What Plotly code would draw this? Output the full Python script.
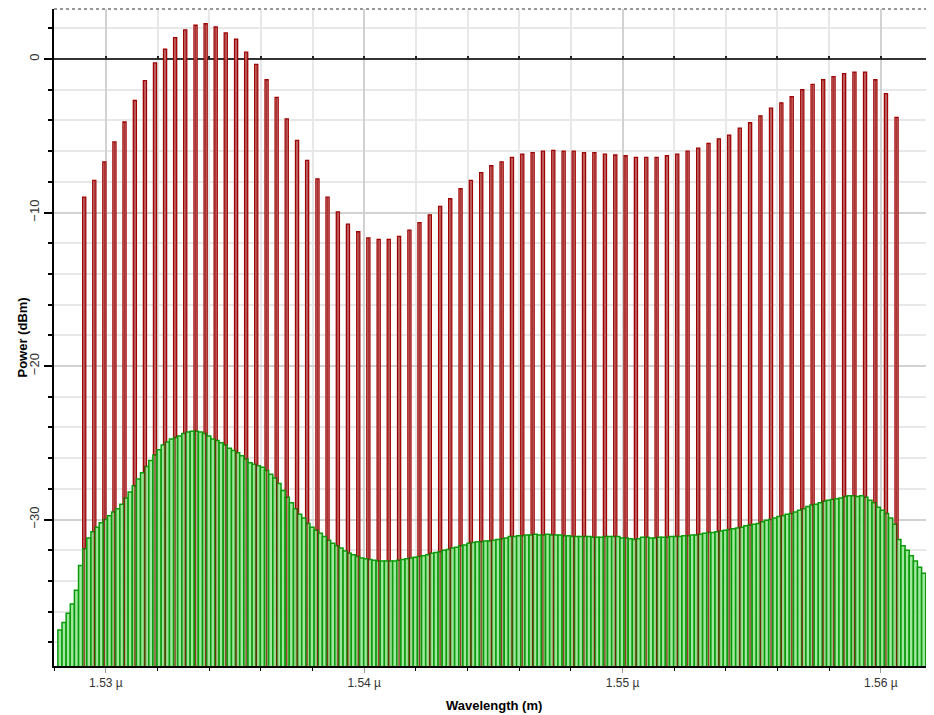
import plotly.graph_objects as go

# ---------------- data ----------------
# DWDM channel wavelengths (nm), 80 channels
channel_wl_nm = [
    1529.16, 1529.55, 1529.94, 1530.33, 1530.72, 1531.12, 1531.51, 1531.90, 1532.29, 1532.68,
    1533.07, 1533.47, 1533.86, 1534.25, 1534.64, 1535.04, 1535.43, 1535.82, 1536.22, 1536.61,
    1537.00, 1537.40, 1537.79, 1538.19, 1538.58, 1538.98, 1539.37, 1539.77, 1540.16, 1540.56,
    1540.95, 1541.35, 1541.75, 1542.14, 1542.54, 1542.94, 1543.33, 1543.73, 1544.13, 1544.53,
    1544.92, 1545.32, 1545.72, 1546.12, 1546.52, 1546.92, 1547.32, 1547.72, 1548.11, 1548.51,
    1548.91, 1549.32, 1549.72, 1550.12, 1550.52, 1550.92, 1551.32, 1551.72, 1552.12, 1552.52,
    1552.93, 1553.33, 1553.73, 1554.13, 1554.54, 1554.94, 1555.34, 1555.75, 1556.15, 1556.55,
    1556.96, 1557.36, 1557.77, 1558.17, 1558.58, 1558.98, 1559.39, 1559.79, 1560.20, 1560.61,
]
# signal power per channel (dBm)
signal_dbm = [
    -9.0, -7.9, -6.7, -5.4, -4.1, -2.7, -1.4, -0.25, 0.65, 1.4,
    1.9, 2.2, 2.3, 2.1, 1.7, 1.3, 0.45, -0.35, -1.35, -2.5,
    -3.9, -5.3, -6.6, -7.8, -9.0, -9.95, -10.75, -11.25, -11.65, -11.75,
    -11.75, -11.55, -11.15, -10.65, -10.15, -9.6, -9.1, -8.45, -7.9, -7.4,
    -6.95, -6.7, -6.4, -6.2, -6.1, -6.0, -5.95, -6.0, -6.0, -6.1,
    -6.1, -6.2, -6.25, -6.3, -6.4, -6.4, -6.4, -6.3, -6.2, -6.0,
    -5.8, -5.5, -5.2, -4.95, -4.5, -4.15, -3.7, -3.2, -2.85, -2.45,
    -2.0, -1.65, -1.35, -1.15, -0.95, -0.85, -0.85, -1.35, -2.25, -3.8,
]
# ASE noise spectrum (dBm per bin), bins start at noise_start_nm, width noise_bin_nm
noise_start_nm = 1528.22
noise_bin_nm = 0.16
noise_dbm = [
    -37.2, -36.7, -36.1, -35.5, -34.6, -33.0, -31.9, -31.2, -30.8, -30.5,
    -30.2, -30.0, -29.75, -29.5, -29.3, -29.0, -28.6, -28.2, -27.8, -27.35,
    -26.95, -26.55, -26.15, -25.8, -25.45, -25.15, -24.95, -24.75, -24.65, -24.55,
    -24.4, -24.3, -24.25, -24.25, -24.3, -24.4, -24.55, -24.75, -24.85, -25.0,
    -25.15, -25.35, -25.5, -25.65, -25.85, -26.05, -26.3, -26.4, -26.5, -26.6,
    -26.8, -27.05, -27.3, -27.65, -28.1, -28.55, -28.9, -29.3, -29.65, -29.9,
    -30.25, -30.5, -30.7, -30.9, -31.1, -31.35, -31.55, -31.7, -31.85, -32.05,
    -32.2, -32.3, -32.4, -32.5, -32.55, -32.6, -32.65, -32.7, -32.7, -32.7,
    -32.7, -32.7, -32.65, -32.6, -32.55, -32.5, -32.45, -32.4, -32.35, -32.3,
    -32.2, -32.15, -32.1, -32.0, -31.95, -31.85, -31.8, -31.7, -31.65, -31.55,
    -31.5, -31.45, -31.45, -31.4, -31.4, -31.35, -31.3, -31.25, -31.2, -31.1,
    -31.1, -31.05, -31.05, -31.0, -31.0, -30.95, -31.0, -31.0, -30.95, -31.0,
    -31.0, -31.0, -31.05, -31.05, -31.1, -31.1, -31.1, -31.1, -31.1, -31.15,
    -31.15, -31.15, -31.1, -31.1, -31.1, -31.1, -31.2, -31.2, -31.25, -31.3,
    -31.25, -31.15, -31.15, -31.2, -31.2, -31.15, -31.15, -31.15, -31.1, -31.1,
    -31.1, -31.05, -31.05, -31.0, -31.0, -30.95, -30.9, -30.85, -30.85, -30.8,
    -30.75, -30.7, -30.65, -30.6, -30.55, -30.5, -30.4, -30.35, -30.3, -30.25,
    -30.15, -30.05, -30.0, -29.9, -29.8, -29.75, -29.65, -29.6, -29.5, -29.4,
    -29.3, -29.15, -29.05, -29.0, -28.9, -28.8, -28.75, -28.7, -28.65, -28.6,
    -28.5, -28.45, -28.45, -28.5, -28.45, -28.55, -28.75, -28.9, -29.2, -29.4,
    -29.6, -29.9, -30.3, -31.3, -31.7, -32.0, -32.35, -32.7, -33.1, -33.5,
    -33.9, -34.5, -35.0,
]
x_tick_vals_nm = [1530, 1540, 1550, 1560]
x_tick_text = ["1.53 \u00b5", "1.54 \u00b5", "1.55 \u00b5", "1.56 \u00b5"]
y_tick_vals = [0, -10, -20, -30]
x_title = "Wavelength (m)"
y_title = "Power (dBm)"

# ---------------- figure ----------------
floor = -45.0
y_range = [-39.54, 3.26]
x_range = [1527.99, 1562.06]
signal_heights = [v - floor for v in signal_dbm]
noise_heights = [v - floor for v in noise_dbm]

fig = go.Figure()

# signal channels (filled)
fig.add_trace(go.Bar(
    x=channel_wl_nm, y=signal_heights, base=floor, width=0.12,
    marker=dict(color="#eac2c2", line=dict(color="#a00000", width=1.3)),
    hoverinfo="skip", name="signal",
))
# ASE noise bins
fig.add_trace(go.Bar(
    x0=noise_start_nm, dx=noise_bin_nm, y=noise_heights, base=floor, width=noise_bin_nm,
    marker=dict(color="rgba(150,230,150,0.9)", line=dict(color="#0a9a0a", width=1.5)),
    hoverinfo="skip", name="noise",
))
# signal channels showing through the noise (on the overlaid axis that carries the 0-line ticks)
fig.add_trace(go.Bar(
    x=channel_wl_nm, y=signal_heights, base=floor, width=0.05,
    marker=dict(color="rgba(140,0,0,0.72)", line=dict(width=0)),
    hoverinfo="skip", name="signal_core", xaxis="x2",
))

font_family = "Liberation Sans, Arial, sans-serif"
zero_pos = (0 - y_range[0]) / (y_range[1] - y_range[0])

fig.update_layout(
    width=926,
    height=707,
    margin=dict(l=46, r=0, t=1, b=49, pad=0, autoexpand=False),
    paper_bgcolor="white",
    plot_bgcolor="white",
    barmode="overlay",
    showlegend=False,
    font=dict(family=font_family, size=12, color="#333333"),
    shapes=[
        dict(type="line", xref="paper", yref="paper", x0=0, x1=1, y0=1, y1=1,
             line=dict(color="#777777", width=1.5, dash="dot")),
    ],
    annotations=[
        dict(text="<b>" + x_title + "</b>", xref="paper", yref="paper", x=0.5, y=0,
             yshift=-39, xanchor="center", yanchor="middle", showarrow=False,
             font=dict(size=13, color="black", family=font_family)),
        dict(text="<b>" + y_title + "</b>", xref="paper", yref="paper", x=0, y=0.5,
             xshift=-32, xanchor="center", yanchor="middle", textangle=-90, showarrow=False,
             font=dict(size=13, color="black", family=font_family)),
    ],
    xaxis=dict(
        automargin=False,
        range=x_range,
        tickvals=x_tick_vals_nm,
        ticktext=x_tick_text,
        tickfont=dict(size=12, color="#333333"),
        showline=True, linecolor="black", linewidth=2,
        ticks="outside", ticklen=5, tickcolor="#999999", tickwidth=1,
        showgrid=True, gridcolor="#d2d2d2", gridwidth=1.5,
        minor=dict(dtick=2, showgrid=True, gridcolor="#e8e8e8", gridwidth=1.5,
                   ticks="outside", ticklen=3, tickcolor="black"),
        zeroline=False,
    ),
    # tick marks along the 0 dBm line
    xaxis2=dict(
        overlaying="x", matches="x", anchor="free", position=zero_pos, side="bottom",
        automargin=False,
        range=x_range, showgrid=False, zeroline=False, showline=False,
        showticklabels=False, ticks="inside", ticklen=3, tickcolor="#222222",
        tickwidth=1.5, dtick=2, tick0=1530,
    ),
    yaxis=dict(
        automargin=False,
        range=y_range,
        tickvals=y_tick_vals,
        tickangle=-90,
        tickfont=dict(size=13, color="#333333"),
        showline=True, linecolor="black", linewidth=2,
        ticks="outside", ticklen=8, tickcolor="black", tickwidth=1.5,
        showgrid=True, gridcolor="#d2d2d2", gridwidth=1.5,
        minor=dict(dtick=2, showgrid=True, gridcolor="#e8e8e8", gridwidth=1.5,
                   ticks="outside", ticklen=4, tickcolor="black"),
        zeroline=True, zerolinecolor="#333333", zerolinewidth=2,
    ),
)

fig.write_html("out.html")
